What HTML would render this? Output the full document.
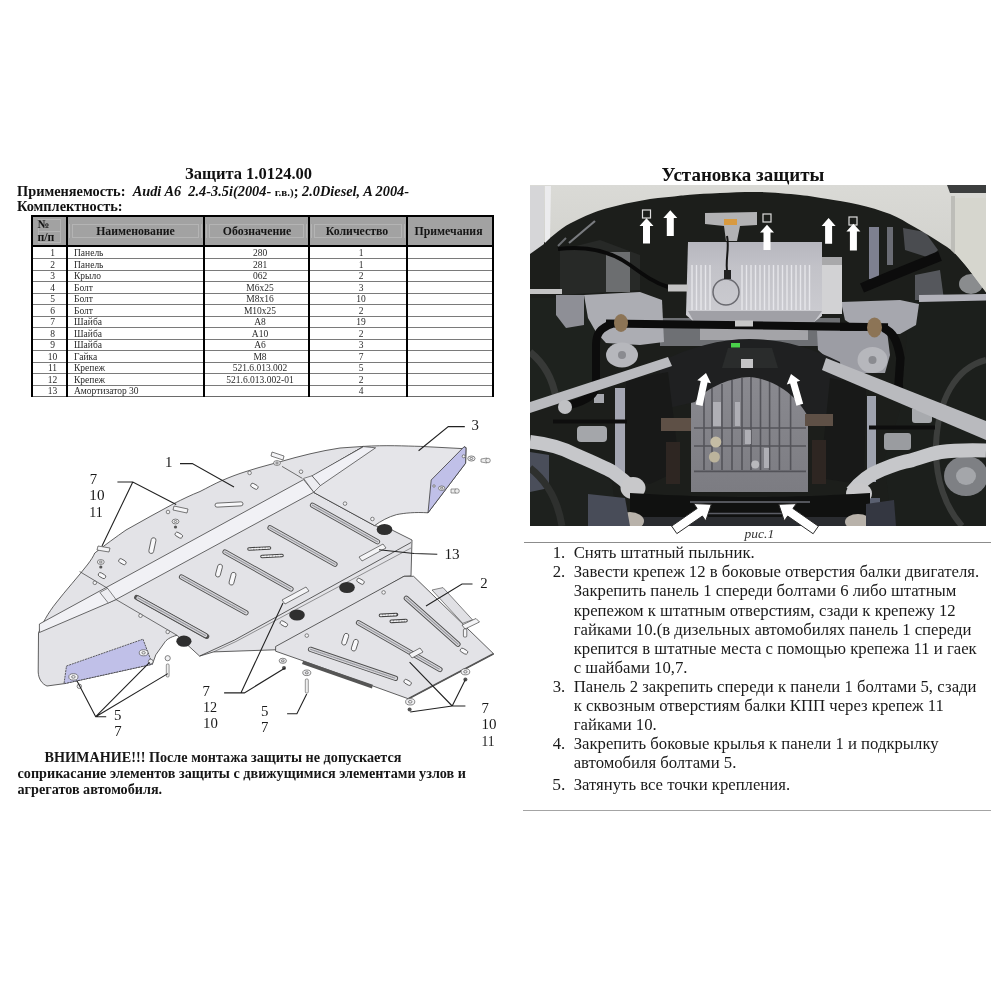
<!DOCTYPE html>
<html><head><meta charset="utf-8">
<style>
*{margin:0;padding:0;box-sizing:border-box}
html,body{width:1000px;height:1000px;background:#fff;overflow:hidden}
.gs{will-change:transform}
body{position:relative;font-family:"Liberation Serif",serif;color:#111}
.a{position:absolute;white-space:nowrap}
#title{left:185px;top:165.6px;font:bold 16.5px "Liberation Serif",serif;line-height:1}
#appl{left:17px;top:183.6px;font:bold 14.35px "Liberation Serif",serif;line-height:1}
#appl i{font-style:italic}
#appl .sm{font-size:11px;font-style:normal}
#kompl{left:17px;top:199px;font:bold 14.35px "Liberation Serif",serif;line-height:1}
table.t{position:absolute;left:31px;top:215px;width:462px;border-collapse:collapse;border:2px solid #000;font:9.3px "Liberation Serif",serif;color:#222}
table.t td{border:1px solid #444;border-left:2.5px solid #000;border-right:2.5px solid #000;height:11.6px;padding:0;line-height:10px;text-align:center}
table.t tr.h td{background:#a3a3a3;height:31px;border-bottom:3px solid #000;font:bold 11.3px "Liberation Serif",serif;color:#111;position:relative}
table.t td.n{text-align:left;padding-left:6px}
.hb{display:block;margin:0 4px;border:1px solid #b8b8b8;height:17px;line-height:16px}
#warn{left:17.5px;top:748.9px;font:bold 14.2px "Liberation Serif",serif;line-height:16.3px;color:#161616}
#ust{left:661.5px;top:164.6px;font:bold 19px "Liberation Serif",serif;line-height:1}
#photo{position:absolute;left:530px;top:185px;width:456px;height:341px;overflow:hidden;background:#1b1d1a}
#ris{left:744.6px;top:527.2px;font:italic 13.5px "Liberation Serif",serif;color:#333;line-height:1}
.hr{position:absolute;background:#8a8a8a}
ol.ins{position:absolute;left:552.7px;top:543.25px;width:440px;list-style:none;font:16.72px "Liberation Serif",serif;line-height:19.1px;color:#1a1a1a}
ol.ins li{position:relative;padding-left:21px;white-space:nowrap}
ol.ins li b{position:absolute;left:0;font-weight:normal}
#drw{position:absolute;left:0;top:410px}
.ab{position:absolute}
.ht{position:absolute;width:120px;text-align:center;font:bold 11.8px "Liberation Serif",serif;color:#151515;white-space:nowrap;line-height:14px}
.bt{position:absolute;font:9.5px "Liberation Serif",serif;color:#2a2a2a;white-space:nowrap;line-height:11px}
</style></head><body><div class="gs" style="position:absolute;left:0;top:0;width:1000px;height:1000px;background:#fff">
<div class="a" id="title">Защита 1.0124.00</div>
<div class="a" id="appl">Применяемость:&nbsp; <i>Audi A6&nbsp; 2.4-3.5i(2004-</i> <span class="sm">г.в.)</span>; <i>2.0Diesel, A 2004-</i></div>
<div class="a" id="kompl">Комплектность:</div>
<div class="ab" style="left:31px;top:215.2px;width:462.8px;height:29.400000000000006px;background:#a2a2a2"></div>
<div class="ab" style="left:38px;top:219px;width:23px;height:24px;border:1px solid #b4b4b4"></div>
<div class="ab" style="left:38px;top:231px;width:23px;height:1px;background:#b4b4b4"></div>
<div class="ab" style="left:72.3px;top:223.5px;width:126.69999999999999px;height:14.5px;border:1px solid #b4b4b4"></div>
<div class="ab" style="left:69.3px;top:223.5px;width:132.7px;height:14.5px;border-left:1px solid #b4b4b4;border-right:1px solid #b4b4b4"></div>
<div class="ab" style="left:209.3px;top:223.5px;width:94.69999999999999px;height:14.5px;border:1px solid #b4b4b4"></div>
<div class="ab" style="left:206.3px;top:223.5px;width:100.69999999999999px;height:14.5px;border-left:1px solid #b4b4b4;border-right:1px solid #b4b4b4"></div>
<div class="ab" style="left:314.3px;top:223.5px;width:87.39999999999998px;height:14.5px;border:1px solid #b4b4b4"></div>
<div class="ab" style="left:311.3px;top:223.5px;width:93.39999999999998px;height:14.5px;border-left:1px solid #b4b4b4;border-right:1px solid #b4b4b4"></div>
<div class="ab" style="left:31px;top:215.2px;width:462.8px;height:2px;background:#000"></div>
<div class="ab" style="left:31px;top:244.6px;width:462.8px;height:2.1px;background:#000"></div>
<div class="ab" style="left:31px;top:258.20px;width:462.8px;height:1px;background:#7a7a7a"></div>
<div class="ab" style="left:31px;top:269.71px;width:462.8px;height:1px;background:#7a7a7a"></div>
<div class="ab" style="left:31px;top:281.22px;width:462.8px;height:1px;background:#7a7a7a"></div>
<div class="ab" style="left:31px;top:292.73px;width:462.8px;height:1px;background:#7a7a7a"></div>
<div class="ab" style="left:31px;top:304.24px;width:462.8px;height:1px;background:#7a7a7a"></div>
<div class="ab" style="left:31px;top:315.75px;width:462.8px;height:1px;background:#7a7a7a"></div>
<div class="ab" style="left:31px;top:327.26px;width:462.8px;height:1px;background:#7a7a7a"></div>
<div class="ab" style="left:31px;top:338.77px;width:462.8px;height:1px;background:#7a7a7a"></div>
<div class="ab" style="left:31px;top:350.28px;width:462.8px;height:1px;background:#7a7a7a"></div>
<div class="ab" style="left:31px;top:361.79px;width:462.8px;height:1px;background:#7a7a7a"></div>
<div class="ab" style="left:31px;top:373.30px;width:462.8px;height:1px;background:#7a7a7a"></div>
<div class="ab" style="left:31px;top:384.81px;width:462.8px;height:1px;background:#7a7a7a"></div>
<div class="ab" style="left:31px;top:396.32px;width:462.8px;height:1px;background:#6a6a6a"></div>
<div class="ab" style="left:31px;top:215.2px;width:2px;height:182.0px;background:#000"></div>
<div class="ab" style="left:66px;top:215.2px;width:2.3px;height:182.0px;background:#000"></div>
<div class="ab" style="left:203px;top:215.2px;width:2.3px;height:182.0px;background:#000"></div>
<div class="ab" style="left:308px;top:215.2px;width:2.3px;height:182.0px;background:#000"></div>
<div class="ab" style="left:405.7px;top:215.2px;width:2.2px;height:182.0px;background:#000"></div>
<div class="ab" style="left:491.6px;top:215.2px;width:2.2px;height:182.0px;background:#000"></div>
<div class="ht" style="left:75.5px;top:224.1px">Наименование</div>
<div class="ht" style="left:197px;top:224.1px">Обозначение</div>
<div class="ht" style="left:297px;top:224.1px">Количество</div>
<div class="ht" style="left:388.5px;top:224.1px">Примечания</div>
<div class="ht" style="left:37.5px;top:218px;width:auto;text-align:left;line-height:13px">№<br>п/п</div>
<div class="bt" style="left:32.5px;top:248.00px;width:40px;text-align:center">1</div>
<div class="bt" style="left:74px;top:248.00px">Панель</div>
<div class="bt" style="left:210px;top:248.00px;width:100px;text-align:center">280</div>
<div class="bt" style="left:331px;top:248.00px;width:60px;text-align:center">1</div>
<div class="bt" style="left:32.5px;top:259.51px;width:40px;text-align:center">2</div>
<div class="bt" style="left:74px;top:259.51px">Панель</div>
<div class="bt" style="left:210px;top:259.51px;width:100px;text-align:center">281</div>
<div class="bt" style="left:331px;top:259.51px;width:60px;text-align:center">1</div>
<div class="bt" style="left:32.5px;top:271.02px;width:40px;text-align:center">3</div>
<div class="bt" style="left:74px;top:271.02px">Крыло</div>
<div class="bt" style="left:210px;top:271.02px;width:100px;text-align:center">062</div>
<div class="bt" style="left:331px;top:271.02px;width:60px;text-align:center">2</div>
<div class="bt" style="left:32.5px;top:282.53px;width:40px;text-align:center">4</div>
<div class="bt" style="left:74px;top:282.53px">Болт</div>
<div class="bt" style="left:210px;top:282.53px;width:100px;text-align:center">М6х25</div>
<div class="bt" style="left:331px;top:282.53px;width:60px;text-align:center">3</div>
<div class="bt" style="left:32.5px;top:294.04px;width:40px;text-align:center">5</div>
<div class="bt" style="left:74px;top:294.04px">Болт</div>
<div class="bt" style="left:210px;top:294.04px;width:100px;text-align:center">М8х16</div>
<div class="bt" style="left:331px;top:294.04px;width:60px;text-align:center">10</div>
<div class="bt" style="left:32.5px;top:305.55px;width:40px;text-align:center">6</div>
<div class="bt" style="left:74px;top:305.55px">Болт</div>
<div class="bt" style="left:210px;top:305.55px;width:100px;text-align:center">М10х25</div>
<div class="bt" style="left:331px;top:305.55px;width:60px;text-align:center">2</div>
<div class="bt" style="left:32.5px;top:317.06px;width:40px;text-align:center">7</div>
<div class="bt" style="left:74px;top:317.06px">Шайба</div>
<div class="bt" style="left:210px;top:317.06px;width:100px;text-align:center">А8</div>
<div class="bt" style="left:331px;top:317.06px;width:60px;text-align:center">19</div>
<div class="bt" style="left:32.5px;top:328.57px;width:40px;text-align:center">8</div>
<div class="bt" style="left:74px;top:328.57px">Шайба</div>
<div class="bt" style="left:210px;top:328.57px;width:100px;text-align:center">А10</div>
<div class="bt" style="left:331px;top:328.57px;width:60px;text-align:center">2</div>
<div class="bt" style="left:32.5px;top:340.08px;width:40px;text-align:center">9</div>
<div class="bt" style="left:74px;top:340.08px">Шайба</div>
<div class="bt" style="left:210px;top:340.08px;width:100px;text-align:center">А6</div>
<div class="bt" style="left:331px;top:340.08px;width:60px;text-align:center">3</div>
<div class="bt" style="left:32.5px;top:351.59px;width:40px;text-align:center">10</div>
<div class="bt" style="left:74px;top:351.59px">Гайка</div>
<div class="bt" style="left:210px;top:351.59px;width:100px;text-align:center">М8</div>
<div class="bt" style="left:331px;top:351.59px;width:60px;text-align:center">7</div>
<div class="bt" style="left:32.5px;top:363.10px;width:40px;text-align:center">11</div>
<div class="bt" style="left:74px;top:363.10px">Крепеж</div>
<div class="bt" style="left:210px;top:363.10px;width:100px;text-align:center">521.6.013.002</div>
<div class="bt" style="left:331px;top:363.10px;width:60px;text-align:center">5</div>
<div class="bt" style="left:32.5px;top:374.61px;width:40px;text-align:center">12</div>
<div class="bt" style="left:74px;top:374.61px">Крепеж</div>
<div class="bt" style="left:210px;top:374.61px;width:100px;text-align:center">521.6.013.002-01</div>
<div class="bt" style="left:331px;top:374.61px;width:60px;text-align:center">2</div>
<div class="bt" style="left:32.5px;top:386.12px;width:40px;text-align:center">13</div>
<div class="bt" style="left:74px;top:386.12px">Амортизатор 30</div>
<div class="bt" style="left:210px;top:386.12px;width:100px;text-align:center"></div>
<div class="bt" style="left:331px;top:386.12px;width:60px;text-align:center">4</div>

<svg style="position:absolute;left:0;top:400px" width="520" height="360" viewBox="0 400 520 360">
<defs>
<pattern id="hat" width="2.2" height="2.2" patternUnits="userSpaceOnUse" patternTransform="rotate(30)"><rect width="2.2" height="2.2" fill="#f0f0f2"/><rect width="1" height="2.2" fill="#888"/></pattern>
</defs>
<g stroke="#3a3a3a" stroke-width="0.8" stroke-linejoin="round">
<!-- panel 1 main + left wing silhouette -->
<path d="M47,686 C42,684 38.5,679 38.2,672 L38.5,633 C42,624 48,613 56,603 C66,590 78,577 88,564 C91,560 93,557 94.8,553 C105,545 116,537 126,530 C142,521 158,512 174,503.5 C183,499 191,495 200,491.5 C207,488 214,484 222,480.5 C230,477 238,474 246,471.5 C254,469 262,466.5 270,464.5 L280,461.8 C300,456 320,451 340,448 L363.6,446.4 L313,476 L314,492.6 L374.6,525.6 L392,530 L412,540 L411,576 L404,576.3 L275.2,649.8 L213.6,651.9 L199.6,656.1 L177,635.3 C170,637 166,640 164.3,642.9 L155.8,654.8 L152.4,664.2 L64,683.7 Z" fill="#e3e3e7"/>
<!-- right wing (part 3) -->
<path d="M363.6,446.4 C385,445 405,446 420.8,446.4 L462.6,448.6 L464,446.8 L466,447.6 L465.6,463.2 L428,512.8 C415,512 405,513 396.6,514.6 C388,517 381,521 374.6,525.6 L314,492.6 L313,476 Z" fill="#e5e5e9"/>
<path d="M312,475.8 L363.6,446.6 L375.6,447.8 L320.4,485.6 Z" fill="#f0f0f5" stroke-width="0.7"/>
<path d="M431.2,480 L464,446.8 L466,447.6 L465.6,463.2 L428,512.8 Z" fill="#c0c0e8"/>
<!-- fold strip panel 1 -->
<path d="M39.4,624 L303.6,479.6 L313.8,492.2 L116,599.5 L108.3,603 L39.4,632.5 Z" fill="#f1f1f5" stroke-width="0.75"/>
<path d="M303.6,478.4 L312,475.8 L320.4,485.6 L313.8,492.2 Z" fill="#ededf1" stroke-width="0.6"/>
<path d="M99.9,592.5 L107.6,588.3 L116,599.5 L108.3,603 Z" fill="#ededf1" stroke-width="0.6"/>
<path d="M282,466.4 L302.4,478.4 M79.6,571.5 L107.6,588.3" fill="none" stroke-width="0.7"/>
<!-- left wing joint -->
<path d="M116,599.5 L177,635.3" fill="none" stroke-width="0.7"/>
<!-- panel1 lower fold double line -->
<path d="M199.6,656.1 L234.6,640 L411,542.5" fill="none" stroke-width="0.8"/>
<path d="M213.6,651.9 L236,641.5 L411,548" fill="none" stroke-width="0.5"/>
<!-- blue plate left -->
<path d="M66.5,666 L143,639.2 L152.4,664.2 L64,683.7 Z" fill="#c0c0e8" stroke-dasharray="2 0.8"/>
<!-- panel 2 -->
<path d="M432,590 L443,587.6 L472.5,619.8 L462.7,623.3 Z" fill="#e0e0e4" stroke-width="0.6"/>
<path d="M275.6,646.5 L404,576.3 L413.6,576.3 L493.6,653.8 L408.4,698.8 L303,660.8 L275.6,651.2 Z" fill="#e3e3e7"/>
<path d="M303.2,660.8 L372.8,684.8 L372,688.5 L302,664 Z" fill="#555" stroke="none"/>
<path d="M493.6,653.8 L408.4,698.8" fill="none" stroke="#555" stroke-width="1.8"/>
</g>
<!-- long slots -->
<g fill="url(#hat)" stroke="#555" stroke-width="0.7">
<path d="M136.6,597.4 L206.8,636.5" stroke-width="5" stroke-linecap="round" fill="none" stroke="#555"/>
</g>
<g fill="none" stroke-linecap="round">
<g stroke="#505050" stroke-width="5.2">
<path d="M138,598 L205.5,635.5"/><path d="M181.5,577 L246,612.8"/><path d="M225,552 L291,589"/><path d="M270,527.8 L335,564.2"/><path d="M312.5,505.2 L377.5,541.8"/>
<path d="M310.5,649.3 L395.5,678.3"/><path d="M358.5,622.8 L440,669.5"/><path d="M406.3,598.2 L458,644.2"/>
</g>
<g stroke="#d8d8dc" stroke-width="3.4">
<path d="M138,598 L205.5,635.5"/><path d="M181.5,577 L246,612.8"/><path d="M225,552 L291,589"/><path d="M270,527.8 L335,564.2"/><path d="M312.5,505.2 L377.5,541.8"/>
<path d="M310.5,649.3 L395.5,678.3"/><path d="M358.5,622.8 L440,669.5"/><path d="M406.3,598.2 L458,644.2"/>
</g>
<g stroke="#9a9aa0" stroke-width="1.2" stroke-dasharray="1 1">
<path d="M138,598 L205.5,635.5"/><path d="M181.5,577 L246,612.8"/><path d="M225,552 L291,589"/><path d="M270,527.8 L335,564.2"/><path d="M312.5,505.2 L377.5,541.8"/>
<path d="M310.5,649.3 L395.5,678.3"/><path d="M358.5,622.8 L440,669.5"/><path d="M406.3,598.2 L458,644.2"/>
</g>
</g>
<!-- small slots -->
<g fill="#f8f8fa" stroke="#444" stroke-width="0.75">
<rect x="-2.4" y="-6.5" width="4.8" height="13" rx="2.4" transform="translate(219,570.6) rotate(15)"/>
<rect x="-2.4" y="-6.5" width="4.8" height="13" rx="2.4" transform="translate(232.5,578.7) rotate(15)"/>
<rect x="-2.4" y="-8" width="4.8" height="16" rx="2.4" transform="translate(152.4,545.6) rotate(12)"/>
<rect x="-2.4" y="-6" width="4.8" height="12" rx="2.4" transform="translate(345.2,639.2) rotate(18)"/>
<rect x="-2.4" y="-6" width="4.8" height="12" rx="2.4" transform="translate(354.8,645.2) rotate(18)"/>
<rect x="-14" y="-2" width="28" height="4" rx="2" transform="translate(229,504.5) rotate(-3)"/>
<rect x="-4" y="-2" width="8" height="4" rx="2" transform="translate(254.4,486.3) rotate(30)"/>
<rect x="-4" y="-2" width="8" height="4" rx="2" transform="translate(178.8,535.2) rotate(30)"/>
<rect x="-4" y="-2" width="8" height="4" rx="2" transform="translate(122.4,561.7) rotate(30)"/>
<rect x="-4" y="-2" width="8" height="4" rx="2" transform="translate(102,575.6) rotate(30)"/>
<rect x="-4" y="-2" width="8" height="4" rx="2" transform="translate(360.5,581.3) rotate(30)"/>
<rect x="-4" y="-2" width="8" height="4" rx="2" transform="translate(283.8,623.8) rotate(30)"/>
<rect x="-4" y="-2" width="8" height="4" rx="2" transform="translate(407.6,682.4) rotate(30)"/>
<rect x="-4" y="-2" width="8" height="4" rx="2" transform="translate(464,651.2) rotate(30)"/>
</g>
<!-- hatched pairs -->
<g fill="none" stroke-linecap="round">
<g stroke="#444" stroke-width="3.6">
<path d="M249,549 L269.5,548"/><path d="M262,556.5 L282,555.5"/><path d="M380.5,615.4 L396.5,614.6"/><path d="M391.3,621.4 L406,620.6"/>
</g>
<g stroke="#f0f0f2" stroke-width="1.6" stroke-dasharray="1.4 1.4">
<path d="M249,549 L269.5,548"/><path d="M262,556.5 L282,555.5"/><path d="M380.5,615.4 L396.5,614.6"/><path d="M391.3,621.4 L406,620.6"/>
</g>
</g>
<!-- rubber bumpers -->
<g fill="#2f2f2f">
<ellipse cx="183.9" cy="641.2" rx="7.6" ry="5.6"/><ellipse cx="384.5" cy="529.5" rx="7.8" ry="5.6"/><ellipse cx="347" cy="587.5" rx="7.8" ry="5.6"/><ellipse cx="297" cy="615" rx="7.8" ry="5.6"/>
</g>
<!-- clips (white bars) -->
<g fill="#f4f4f6" stroke="#444" stroke-width="0.7">
<path d="M359,557 L383,544 L386,548 L362,561 Z"/>
<path d="M282,600 L306,587 L309,591 L285,604 Z"/>
<path d="M409,654 L420,648 L423,652 L412,658 Z"/>
<path d="M462,625 L476,618.5 L479.5,622 L465,629 Z"/><rect x="463.4" y="629" width="3.4" height="8" rx="1"/>
<path d="M98,546 L110,548 L109,552 L97,550 Z"/>
<path d="M174,506 L188,509 L187,513 L173,510 Z"/>
<path d="M272,452 L284,456 L283,460 L271,456 Z"/>
</g>
<!-- bolts/washers -->
<g fill="#f2f2f4" stroke="#555" stroke-width="0.7">
<circle cx="249.6" cy="472.9" r="1.8"/><circle cx="168" cy="512" r="1.8"/><circle cx="94.8" cy="582.8" r="1.8"/>
<circle cx="301" cy="471.7" r="1.8"/><circle cx="345" cy="503.6" r="1.8"/><circle cx="372.4" cy="519" r="1.8"/>
<circle cx="140.5" cy="615.7" r="1.8"/><circle cx="167.7" cy="631.9" r="1.8"/><circle cx="383.6" cy="592.4" r="1.8"/><circle cx="306.8" cy="635.6" r="1.8"/>
<circle cx="463.7" cy="456.3" r="1.5"/><ellipse cx="441.7" cy="488.2" rx="3.22" ry="2.24"/><ellipse cx="441.7" cy="488.2" rx="1.26" ry="0.90" fill="none"/><circle cx="434" cy="486" r="1.2"/>
<ellipse cx="100.8" cy="562.0" rx="3.45" ry="2.40"/><ellipse cx="100.8" cy="562.0" rx="1.35" ry="0.96" fill="none"/><ellipse cx="175.5" cy="521.5" rx="3.45" ry="2.40"/><ellipse cx="175.5" cy="521.5" rx="1.35" ry="0.96" fill="none"/><ellipse cx="277.0" cy="463.0" rx="3.45" ry="2.40"/><ellipse cx="277.0" cy="463.0" rx="1.35" ry="0.96" fill="none"/>
<ellipse cx="282.8" cy="660.8" rx="3.68" ry="2.56"/><ellipse cx="282.8" cy="660.8" rx="1.44" ry="1.02" fill="none"/><ellipse cx="306.8" cy="672.8" rx="4.02" ry="2.80"/><ellipse cx="306.8" cy="672.8" rx="1.57" ry="1.12" fill="none"/><ellipse cx="410.2" cy="701.8" rx="4.60" ry="3.20"/><ellipse cx="410.2" cy="701.8" rx="1.80" ry="1.28" fill="none"/><ellipse cx="465.4" cy="671.8" rx="4.37" ry="3.04"/><ellipse cx="465.4" cy="671.8" rx="1.71" ry="1.22" fill="none"/>
<ellipse cx="471.4" cy="458.5" rx="3.68" ry="2.56"/><ellipse cx="471.4" cy="458.5" rx="1.44" ry="1.02" fill="none"/>
<ellipse cx="73.4" cy="676.9" rx="4.60" ry="3.20"/><ellipse cx="73.4" cy="676.9" rx="1.80" ry="1.28" fill="none"/><ellipse cx="143.6" cy="652.8" rx="4.37" ry="3.04"/><ellipse cx="143.6" cy="652.8" rx="1.71" ry="1.22" fill="none"/><circle cx="150.7" cy="661.6" r="2.4"/><circle cx="79.3" cy="686.3" r="2.2"/><circle cx="167.7" cy="658.2" r="2.6"/>
</g>
<g fill="#555">
<circle cx="284" cy="668" r="2"/><circle cx="409.6" cy="709.6" r="2"/><circle cx="465.4" cy="679.6" r="2"/>
<circle cx="100.8" cy="567" r="1.6"/><circle cx="175.5" cy="527" r="1.6"/>
</g>
<g fill="#eee" stroke="#555" stroke-width="0.6">
<rect x="305.3" y="679" width="3" height="14" rx="1"/>
<rect x="166.3" y="664" width="2.8" height="13" rx="1"/>
<path d="M481,459 L487,458 L487,463 L481,462 Z"/><circle cx="488" cy="460.5" r="2.3"/>
<path d="M451,489 L456,489 L456,493 L451,493 Z"/><circle cx="457" cy="491" r="2.3"/>
</g>
<!-- leaders -->
<g fill="none" stroke="#222" stroke-width="1.1">
<path d="M180,463.6 L192.3,463.6 L234,487"/>
<path d="M117.4,482 L132.8,482 L176.2,504.6 M132.8,482 L102,546"/>
<path d="M464.8,426.6 L448.3,426.6 L418.6,450.8"/>
<path d="M437.3,554.2 L414,553.5 L379,549.8"/>
<path d="M472.5,584 L462,584 L426,606"/>
<path d="M224.1,692.9 L244.4,692.9 L285,668 M240.9,692.9 L283,603"/>
<path d="M287.1,713.8 L296.9,713.8 L306.7,693.9"/>
<path d="M106.2,716.7 L95.7,716.7 L76.8,680.6 M95.7,716.7 L149.6,662.4 M95.7,716.7 L167.8,673.6"/>
<path d="M465.4,706 L452.2,706 L465.4,679.6 M452.2,706 L410.2,712 M452.2,706 L409.6,662.2"/>
</g>
<!-- labels -->
<g font-family="Liberation Serif, serif" font-size="14.8" fill="#1a1a1a">
<text x="165" y="466.8">1</text>
<text x="471.4" y="430">3</text>
<text x="89.8" y="484.3">7</text><text x="89.3" y="500.4" textLength="15.2" lengthAdjust="spacingAndGlyphs">10</text><text x="89.3" y="517.2" textLength="13.4" lengthAdjust="spacingAndGlyphs">11</text>
<text x="444.5" y="558.6" textLength="15.2" lengthAdjust="spacingAndGlyphs">13</text>
<text x="480.3" y="587.8">2</text>
<text x="202.6" y="695.9">7</text><text x="203" y="712" textLength="14.2" lengthAdjust="spacingAndGlyphs">12</text><text x="203" y="728.1" textLength="14.8" lengthAdjust="spacingAndGlyphs">10</text>
<text x="113.9" y="719.8">5</text><text x="114.3" y="735.9">7</text>
<text x="261" y="715.6">5</text><text x="261" y="731.7">7</text>
<text x="481.4" y="713.2">7</text><text x="481.4" y="729.4" textLength="15" lengthAdjust="spacingAndGlyphs">10</text><text x="481.4" y="745.6" textLength="13" lengthAdjust="spacingAndGlyphs">11</text>
</g>
</svg>


<div class="a" id="warn"><span style="display:inline-block;width:27px"></span>ВНИМАНИЕ!!! После монтажа защиты не допускается<br>соприкасание элементов защиты с движущимися элементами узлов и<br>агрегатов автомобиля.</div>

<div class="a" id="ust">Установка защиты</div>
<div id="photo">
<svg width="456" height="341" viewBox="530 185 456 341" style="display:block">
<defs>
<linearGradient id="archg" x1="0" y1="0" x2="0" y2="1"><stop offset="0" stop-color="#dadad6"/><stop offset="1" stop-color="#cdcdc8"/></linearGradient>
<linearGradient id="pang" x1="0" y1="0" x2="0" y2="1"><stop offset="0" stop-color="#b6b6be"/><stop offset="0.3" stop-color="#c2c2c8"/><stop offset="1" stop-color="#cdcdd2"/></linearGradient>
<linearGradient id="trg" x1="0" y1="0" x2="0" y2="1"><stop offset="0" stop-color="#8a8a90"/><stop offset="1" stop-color="#7c7c82"/></linearGradient>
<filter id="bl" x="-5%" y="-5%" width="110%" height="110%" color-interpolation-filters="sRGB"><feGaussianBlur stdDeviation="0.6"/></filter>
</defs>
<g filter="url(#bl)">
<rect x="530" y="185" width="456" height="341" fill="#1c1e1b"/>
<!-- wheels / tires (behind) -->
<path d="M530,298 L594,298 L596,400 L530,400 Z" fill="#1e221e"/>
<path d="M530,352 C540,360 552,375 556,398" stroke="#373937" stroke-width="7" fill="none"/>
<path d="M530,447 L575,452 L612,482 L618,526 L530,526 Z" fill="#1e211e"/><path d="M530,452 L549,455 L549,488 L530,492 Z" fill="#4a4e5a"/>
<path d="M530,468 C548,482 558,502 562,526" stroke="#2e302e" stroke-width="7" fill="none"/>
<path d="M910,300 L986,300 L986,526 L892,526 L884,460 L900,410 Z" fill="#1c1f1c"/>

<ellipse cx="966" cy="476" rx="22" ry="20" fill="#7e8084"/>
<ellipse cx="966" cy="476" rx="10" ry="9" fill="#a4a6aa"/>
<!-- mid-gray clutter patches upper -->
<path d="M560,250 L600,240 L640,255 L640,290 L560,295 Z" fill="#272927"/>
<rect x="606" y="252" width="24" height="40" fill="#6c6e70"/>
<path d="M569,243 L595,221" stroke="#7a7c80" stroke-width="2.2"/><path d="M558,246 L566,238" stroke="#6a6c70" stroke-width="2"/>
<rect x="869" y="227" width="10" height="52" fill="#7e8090"/><rect x="887" y="227" width="6" height="38" fill="#6a6c74"/>
<ellipse cx="971" cy="284" rx="12" ry="10" fill="#8a8c8e"/>
<path d="M903,228 L925,232 L938,250 L930,258 L905,250 Z" fill="#4a4c50"/>
<path d="M915,275 L940,270 L944,300 L915,300 Z" fill="#55575c"/>
<!-- engine bottom between pan and subframe -->
<rect x="660" y="318" width="180" height="28" fill="#6e7074"/><rect x="700" y="327" width="108" height="13" fill="#a4a4a8"/>
<!-- left bracket area -->
<path d="M530,289 L562,289 L562,294 L530,294 Z" fill="#c4c4c4"/>
<path d="M556,295 L584,295 L584,325 L566,328 L556,315 Z" fill="#8e8f96"/>
<path d="M584,295 L640,292 L662,300 L664,342 L640,345 L606,343 L596,332 L588,318 Z" fill="#acadb3"/>
<!-- right bracket area -->
<path d="M841,302 L900,300 L919,304 L916,325 L900,334 L885,334 L860,330 L845,320 Z" fill="#a6a7ae"/>
<path d="M817,331 L887,331 L890,355 L885,373 L860,373 L835,365 L818,350 Z" fill="#9c9da4"/>
<path d="M919,295 L986,294 L986,300.5 L919,302 Z" fill="#b2b2ba"/>
<path d="M986,360 C955,368 938,400 936,445 C935,480 946,508 962,526" stroke="#3c3e3c" stroke-width="6" fill="none"/>
<!-- mounts -->
<ellipse cx="622" cy="355" rx="16" ry="12.5" fill="#b6b7bc"/>
<circle cx="622" cy="355" r="4" fill="#8a8b90"/>
<ellipse cx="872.5" cy="360" rx="15" ry="13" fill="#b6b7bc"/>
<circle cx="872.5" cy="360" r="4" fill="#8a8b90"/>
<!-- arch -->
<path d="M530,185 H986 L986,292.4 C984.4,290.3 979.6,283.9 976.4,279.6 C973.2,275.3 970.5,271.3 966.8,266.8 C963.1,262.3 958.8,256.7 954,252.4 C949.2,248.1 944.7,245.5 938,241.2 C931.3,236.9 922.0,231.3 914,226.8 C906.0,222.3 899.3,217.7 890,214 C880.7,210.3 868.7,206.9 858,204.4 C847.3,201.9 835.7,200.4 826,198.8 C816.3,197.2 811.0,196.1 800,195 C789.0,193.9 773.3,192.3 760,192 C746.7,191.7 731.7,192.5 720,193 C708.3,193.5 697.7,194.2 690,194.8 C682.3,195.4 679.3,195.9 674,196.4 C668.7,196.9 663.3,197.3 658,198 C652.7,198.7 647.3,199.5 642,200.4 C636.7,201.3 631.3,202.4 626,203.6 C620.7,204.8 615.3,206.1 610,207.6 C604.7,209.1 599.3,210.4 594,212.4 C588.7,214.4 583.3,216.9 578,219.6 C572.7,222.3 567.3,224.8 562,228.4 C556.7,232.0 551.3,237.2 546,241.2 C540.7,245.2 532.7,250.5 530,252.4 Z" fill="url(#archg)"/>
<path d="M530,186 L544,186 L544,244 L530,254 Z" fill="#d6d6d8"/><path d="M545,186 L551,186 L550,238 L545,243 Z" fill="#ececee"/>
<path d="M947,185 H986 V193 H950 Z" fill="#3c3e3e"/>
<path d="M954,198 H986 V292 L976,279 L966,266 L954,252 Z" fill="#d6d6ce"/>
<path d="M951,196 L955,196 L955,254 L951,250 Z" fill="#bdbdb8"/>
<!-- engine mount -->
<path d="M705,213 L757,212 L757,225 L740,226 L737,241 L726,241 L724,226 L705,224 Z" fill="#b2b2b4"/>
<rect x="724" y="219" width="13" height="6" fill="#d89a40"/>
<!-- oil pan -->
<path d="M688,242 L822,242 L822,316 L814,322 L694,322 L686,315 Z" fill="url(#pang)"/>
<g stroke="#ececf0" stroke-width="1.4" opacity="0.85">
<line x1="692" y1="265" x2="692" y2="310"/><line x1="696.5" y1="265" x2="696.5" y2="310"/><line x1="701" y1="265" x2="701" y2="310"/><line x1="705.5" y1="265" x2="705.5" y2="310"/><line x1="710" y1="265" x2="710" y2="310"/>
<line x1="742" y1="265" x2="742" y2="310"/><line x1="746.5" y1="265" x2="746.5" y2="310"/><line x1="751" y1="265" x2="751" y2="310"/><line x1="755.5" y1="265" x2="755.5" y2="310"/><line x1="760" y1="265" x2="760" y2="310"/><line x1="764.5" y1="265" x2="764.5" y2="310"/><line x1="769" y1="265" x2="769" y2="310"/><line x1="773.5" y1="265" x2="773.5" y2="310"/><line x1="778" y1="265" x2="778" y2="310"/><line x1="782.5" y1="265" x2="782.5" y2="310"/><line x1="787" y1="265" x2="787" y2="310"/><line x1="791.5" y1="265" x2="791.5" y2="310"/><line x1="796" y1="265" x2="796" y2="310"/><line x1="800.5" y1="265" x2="800.5" y2="310"/><line x1="805" y1="265" x2="805" y2="310"/><line x1="809.5" y1="265" x2="809.5" y2="310"/>
</g>
<path d="M688,311 L822,311 L814,322 L694,322 Z" fill="#a0a0a6"/>
<circle cx="726" cy="292" r="13" fill="none" stroke="#6a6a70" stroke-width="1.5"/>
<path d="M727,236 C730,250 724,262 728,278" stroke="#161616" stroke-width="2" fill="none"/>
<rect x="724" y="270" width="7" height="9" fill="#222"/>
<rect x="822" y="257" width="20" height="57" fill="#d2d2d4"/>
<rect x="822" y="257" width="20" height="8" fill="#a8a8aa"/>
<!-- hoses -->
<path d="M558,249 C590,245 612,252 630,265 C645,276 655,283 668,287" stroke="#0a0a0a" stroke-width="4" fill="none"/><rect x="668" y="284.5" width="20" height="7" fill="#c4c4c4"/>
<path d="M862,288 C885,278 915,266 940,256" stroke="#0c0c0c" stroke-width="10" fill="none"/>
<!-- transmission -->
<path d="M691,492 L691,394 C708,382 728,376 750,375 C772,375 792,382 808,394 L808,492 Z" fill="url(#trg)"/>
<g stroke="#4c4c52" stroke-width="1.6" opacity="0.85" fill="none">
<line x1="704" y1="392" x2="704" y2="470"/><line x1="712" y1="388" x2="712" y2="470"/><line x1="722" y1="384" x2="722" y2="470"/><line x1="732" y1="380" x2="732" y2="470"/><line x1="742" y1="378" x2="742" y2="470"/><line x1="751" y1="377" x2="751" y2="470"/><line x1="760.5" y1="378" x2="760.5" y2="470"/><line x1="769.6" y1="380" x2="769.6" y2="470"/><line x1="779.4" y1="384" x2="779.4" y2="470"/><line x1="790.6" y1="388" x2="790.6" y2="470"/>
<line x1="694" y1="428" x2="806" y2="428"/><line x1="694" y1="446" x2="806" y2="446"/><line x1="694" y1="471.4" x2="806" y2="471.4"/>
</g>
<g fill="#b4b4ba" opacity="0.9"><rect x="713" y="402" width="8" height="24"/><rect x="745" y="430" width="6" height="14" /><rect x="764" y="448" width="5" height="20"/><rect x="735" y="402" width="5" height="24"/></g>
<circle cx="715.8" cy="442" r="5.5" fill="#c4bca4"/><circle cx="714.4" cy="457" r="5.5" fill="#bcb49c"/><circle cx="755.2" cy="464.4" r="4" fill="#b8b8bc"/>
<!-- subframe black arch -->
<path d="M660,362 C690,347 720,339 750,339 C780,339 810,347 840,362 L845,410 L810,420 C800,400 780,380 750,377 C725,378 705,390 695,402 L660,410 Z" fill="#1f2021"/>
<path d="M728,348 L772,348 L778,368 L722,368 Z" fill="#2a2c2c"/><rect x="741" y="359" width="12" height="9" fill="#c4c4c6"/>
<rect x="731" y="343" width="9" height="4.5" fill="#4ad04a"/>
<!-- side subframe pieces -->
<path d="M626,380 L668,372 L680,470 L650,484 L626,480 Z" fill="#181918"/>
<path d="M830,378 L866,385 L864,485 L820,478 Z" fill="#181918"/>
<!-- exhaust / brown bits -->
<rect x="661" y="418" width="30" height="13" fill="#5e5046"/>
<rect x="666" y="442" width="14" height="42" fill="#2e2622"/>
<rect x="805" y="414" width="28" height="12" fill="#5e5046"/>
<rect x="812" y="440" width="14" height="44" fill="#2e2622"/>
<!-- light rods / bearings -->
<rect x="615" y="388" width="10" height="88" fill="#a4a6b2"/>
<rect x="867" y="396" width="9" height="86" fill="#9ea2ae"/><rect x="868" y="498" width="12" height="28" fill="#5a6070"/>
<rect x="594" y="394" width="10" height="9" fill="#a6a8ae"/>
<rect x="577" y="426" width="30" height="16" rx="4" fill="#a4a6aa"/>
<rect x="884" y="433" width="27" height="17" rx="3" fill="#9a9ca0"/>
<rect x="912" y="403" width="20" height="20" rx="3" fill="#a8aaae"/>
<!-- stabilizer bar -->
<path d="M606,323.5 L888,327.2" stroke="#0c0c0c" stroke-width="8" fill="none"/>
<path d="M612,324 C600,328 596,334 596,345 L596,385 C596,394 588,400 570,405" stroke="#0c0c0c" stroke-width="8" fill="none"/>
<path d="M883.7,328 C892,332 897,338 900.4,358 L898.6,384 C899,392 902,398 906,401 C912,405 918,406 925,407" stroke="#0c0c0c" stroke-width="8.4" fill="none"/>
<rect x="735" y="320.5" width="18" height="6" fill="#c8c8c8"/>
<ellipse cx="621" cy="323" rx="7" ry="9" fill="#8c7456"/>
<ellipse cx="874.5" cy="327.4" rx="7.5" ry="10" fill="#8c7456"/>
<!-- upper control arms -->
<path d="M530,402 L668,357 L672,366 L530,413 Z" fill="#b9babe"/>
<path d="M826,358 L986,421 L986,440 L822,370 Z" fill="#b9babe"/>
<circle cx="565" cy="407" r="7" fill="#c0c1c4"/>
<!-- tie rods -->
<path d="M553,421.5 L627,421.5" stroke="#0e0e0e" stroke-width="4"/>
<path d="M869,427.5 L935,427.5" stroke="#0e0e0e" stroke-width="4"/>
<!-- lower control arms -->
<path d="M530,441.7 C550,444 565,449 575,454.5 C590,461 602,466 612.5,471.7 C620,477 627,483 632,488" stroke="#c6c7ca" stroke-width="13.5" fill="none"/>
<ellipse cx="633" cy="488" rx="12.5" ry="11" fill="#c8c8ca"/>
<path d="M852,492 C860,482 868,475 881,470 C893,465 900,462 911,460.5 C925,456 933,453 941,452 C955,450 965,450 986,450.5" stroke="#c6c7ca" stroke-width="14" fill="none"/>
<ellipse cx="859" cy="493.5" rx="13" ry="10.5" fill="#c8c8ca"/>
<!-- cross member -->
<path d="M630,493 C680,496 720,497 750,497 C790,497 820,496 870,493 L870,517 L630,517 Z" fill="#101110"/>
<path d="M690,502 L810,502" stroke="#6a6c74" stroke-width="1.5"/>
<path d="M700,513.5 L800,513.5" stroke="#5a5c64" stroke-width="1.5"/>
<rect x="630" y="517" width="240" height="9" fill="#2a2c30"/>
<ellipse cx="630" cy="521" rx="14" ry="9" fill="#b8b2aa"/>
<ellipse cx="858" cy="522" rx="13" ry="8" fill="#b8b2aa"/>
<path d="M588,494 L625,498 L630,526 L588,526 Z" fill="#484c58"/>
<path d="M866,504 L894,500 L896,526 L866,526 Z" fill="#343741"/>
</g>
<!-- white arrows up (markers) -->
<g fill="#fff">
<rect x="642.5" y="210" width="8" height="8" fill="none" stroke="#ddd" stroke-width="1.2"/>
<rect x="763" y="214" width="8" height="8" fill="none" stroke="#ddd" stroke-width="1.2"/>
<rect x="849" y="217" width="8" height="8" fill="none" stroke="#ddd" stroke-width="1.2"/>
<path d="M646.5,218.3 L653.5,226 L650,226 L650,243.6 L643,243.6 L643,226 L639.5,226 Z"/>
<path d="M670.3,210.3 L677.3,218 L673.8,218 L673.8,236 L666.8,236 L666.8,218 L663.3,218 Z"/>
<path d="M767,224.7 L774,232.5 L770.5,232.5 L770.5,250 L763.5,250 L763.5,232.5 L760,232.5 Z"/>
<path d="M828.6,218 L835.6,226 L832.1,226 L832.1,243.7 L825.1,243.7 L825.1,226 L821.6,226 Z"/>
<path d="M853.4,223.7 L860.4,231.5 L856.9,231.5 L856.9,250.4 L849.9,250.4 L849.9,231.5 L846.4,231.5 Z"/>
<g transform="rotate(12 706 373)"><path d="M706,373 L713,382 L709.5,382 L709.5,406 L702.5,406 L702.5,382 L699,382 Z"/></g>
<g transform="rotate(-16 791 374)"><path d="M791,374 L798,383 L794.5,383 L794.5,406 L787.5,406 L787.5,383 L784,383 Z"/></g>
</g>
</svg>

</div>
<svg style="position:absolute;left:0;top:0" width="1000" height="560" viewBox="0 0 1000 560">
<g fill="#fff" stroke="#2a2a2a" stroke-width="0.9" stroke-linejoin="miter">
<path transform="translate(711.3,504.3) rotate(-34.6)" d="M0,0 L-14,-10.5 L-14,-4.6 L-45,-4.6 L-45,4.6 L-14,4.6 L-14,10.5 Z"/>
<path transform="translate(778.8,504.3) rotate(-145.2)" d="M0,0 L-14,-10.5 L-14,-4.6 L-45,-4.6 L-45,4.6 L-14,4.6 L-14,10.5 Z"/>
</g></svg>
<div class="a" id="ris">рис.1</div>
<div class="hr" style="left:524px;top:541.9px;width:466.5px;height:1.2px;background:#8c8c8c"></div>
<ol class="ins">
<li><b>1.</b>Снять штатный пыльник.</li>
<li><b>2.</b>Завести крепеж 12 в боковые отверстия балки двигателя.<br>Закрепить панель 1 спереди болтами 6 либо штатным<br>крепежом к штатным отверстиям, сзади к крепежу 12<br>гайками 10.(в дизельных автомобилях панель 1 спереди<br>крепится в штатные места с помощью крепежа 11 и гаек<br>с шайбами 10,7.</li>
<li><b>3.</b>Панель 2 закрепить спереди к панели 1 болтами 5, сзади<br>к сквозным отверстиям балки КПП через крепеж 11<br>гайками 10.</li>
<li><b>4.</b>Закрепить боковые крылья к панели 1 и подкрылку<br>автомобиля болтами 5.</li>
<li style="margin-top:2.7px"><b style="font-size:17.5px;left:-0.5px">5.</b>Затянуть все точки крепления.</li>
</ol>
<div class="hr" style="left:523px;top:809.8px;width:467.8px;height:1.6px;background:#a4a4a4"></div>
</div></body></html>
